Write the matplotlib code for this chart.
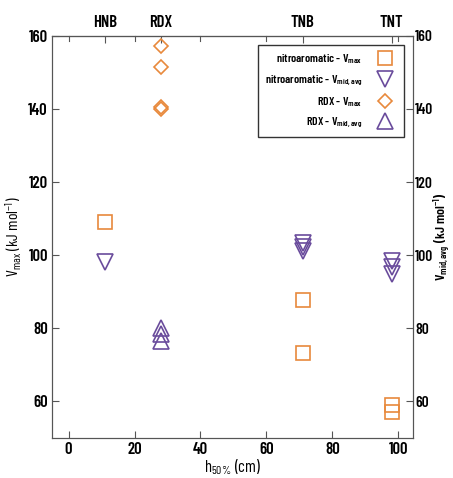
import matplotlib
matplotlib.use("Agg")
import matplotlib.pyplot as plt

FONT = "Barlow Condensed"
plt.rcParams["font.family"] = [FONT, "DejaVu Sans"]
plt.rcParams["font.weight"] = 600
plt.rcParams["mathtext.fontset"] = "custom"
plt.rcParams["mathtext.rm"] = FONT + ":semibold"
plt.rcParams["mathtext.it"] = FONT + ":semibold"
plt.rcParams["mathtext.bf"] = FONT + ":bold"

ORANGE = "#E8893C"
PURPLE = "#6A4C9C"
GREY = "#555555"

# nitroaromatics (HNB, TNB, TNT)
nitro_h50 = [11, 71, 71, 98, 98]
nitro_vmax = [109, 87.7, 73.2, 59.0, 57.0]
nitro_mid_h50 = [11, 71, 71, 71, 98, 98, 98]
nitro_vmid = [98.1, 103.2, 102.2, 101.2, 98.3, 96.8, 94.9]

# RDX
rdx_h50 = [28, 28, 28, 28]
rdx_vmax = [157.2, 151.4, 140.5, 139.9]
rdx_mid_h50 = [28, 28, 28]
rdx_vmid = [80.0, 78.3, 76.6]

compounds = ["HNB", "RDX", "TNB", "TNT"]
compound_h50 = [11, 28, 71, 98]

fig = plt.figure(figsize=(4.53, 4.78), dpi=100)
ax = fig.add_axes([0.115, 0.084, 0.797, 0.841])
ax2 = ax.twinx()

mk = dict(linestyle="none", markerfacecolor="none", markeredgewidth=1.2)
ax.plot(nitro_h50, nitro_vmax, marker="s", ms=10.5, color=ORANGE,
        label=r"nitroaromatic - V$_{\mathregular{max}}$", **mk)
ax.plot(nitro_mid_h50, nitro_vmid, marker="v", ms=11, color=PURPLE,
        label=r"nitroaromatic - V$_{\mathregular{mid,avg}}$", **mk)
ax.plot(rdx_h50, rdx_vmax, marker="D", ms=7.2, color=ORANGE,
        label=r"RDX - V$_{\mathregular{max}}$", **mk)
ax.plot(rdx_mid_h50, rdx_vmid, marker="^", ms=11, color=PURPLE,
        label=r"RDX - V$_{\mathregular{mid,avg}}$", **mk)

for a in (ax, ax2):
    a.set_xlim(-5, 104.5)
    a.set_ylim(50, 160)
    a.set_yticks([60, 80, 100, 120, 140, 160])
    for s in a.spines.values():
        s.set_color(GREY)
    a.tick_params(direction="in", length=5, color=GREY, labelsize=12, pad=3)
ax2.tick_params(pad=1.5, labelsize=11)

ax.set_xticks([0, 20, 40, 60, 80, 100])
ax.set_xlabel(r"h$_{\mathregular{50\%}}$ (cm)", fontsize=12, labelpad=0)
ax.set_ylabel(r"V$_{\mathregular{max}}$ (kJ mol$^{\mathregular{-1}}$)", fontsize=11.5, labelpad=3)
# right-hand label pinned to the figure edge so it stays inside
fig.text(0.999, 0.5045, r"V$_{\mathregular{mid,avg}}$ (kJ mol$^{\mathregular{-1}}$)",
         fontsize=10, rotation=90, ha="right", va="center")

# compound names along the top axis
top = ax.secondary_xaxis("top")
top.set_xticks(compound_h50, compounds)
top.tick_params(direction="in", length=5, color=GREY, labelsize=12, pad=4)
top.spines["top"].set_color(GREY)
for x in [0, 20, 40, 60, 100]:
    ax.plot([x, x], [160, 158.6], color=GREY, lw=0.8, clip_on=False)

leg = ax.legend(loc="upper right", markerfirst=False, fontsize=8.5,
                frameon=True, fancybox=False, edgecolor="black",
                borderaxespad=0.8, labelspacing=0.6, handletextpad=0.9,
                borderpad=0.6)
leg.get_frame().set_linewidth(1.0)

fig.savefig("out.png", dpi=100)
